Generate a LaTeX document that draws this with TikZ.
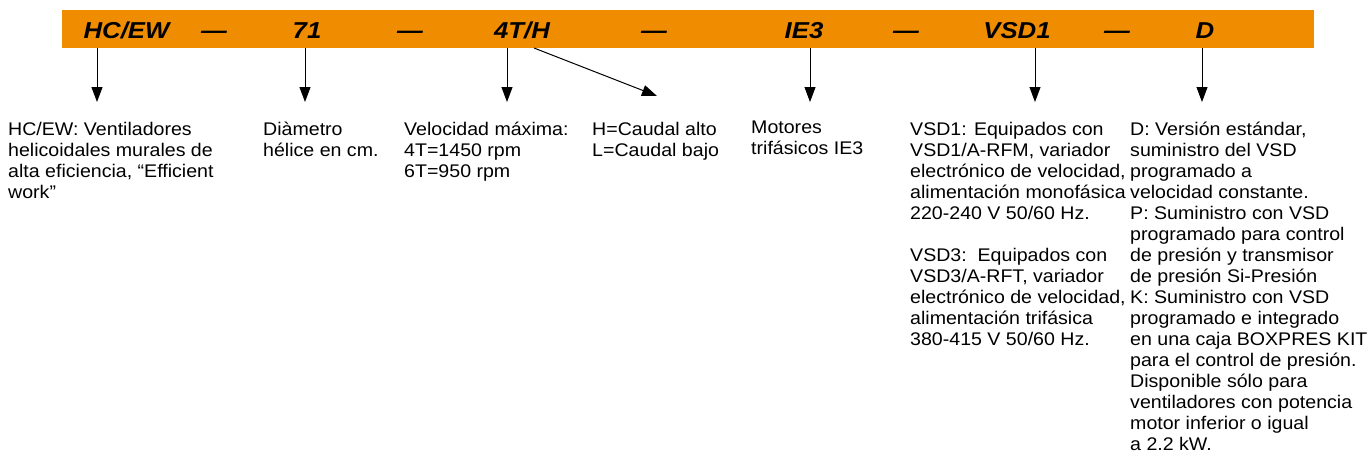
\documentclass[tikz,border=0pt]{standalone}
\usepackage{fontspec}
\setmainfont{Liberation Sans}[FakeStretch=1.07]
\newfontfamily\codefont{Liberation Sans}[FakeStretch=1.12]
\usepackage{tikz}
\usetikzlibrary{arrows.meta}
\definecolor{xorange}{RGB}{240,140,0}

\begin{document}
\begin{tikzpicture}[x=1pt, y=-1pt,
  codebar/.style={fill=xorange, inner sep=0pt, anchor=north west,
                  minimum width=1252pt, minimum height=38pt},
  code/.style={font=\codefont\fontsize{23}{26}\selectfont\bfseries\itshape,
               inner sep=0pt, anchor=base},
  % base = baseline of the last line
  desc/.style={font=\fontsize{18.3}{21}\selectfont, align=left,
               inner sep=0pt, anchor=base west},
  arr/.style={-{Triangle[length=15pt,width=11pt]}, line width=1pt}
]
  \useasboundingbox (0,0) rectangle (1367,459);
  \node[codebar] (bar) at (62,10) {};

  % code fields
  \node[code] (hcew)  at (126.5,38) {HC/EW};
  \node[code] (dash1) at (214,38)   {—};
  \node[code] (diam)  at (307,38)   {71};
  \node[code] (dash2) at (410,38)   {—};
  \node[code] (speed) at (522,38)   {4T/H};
  \node[code] (dash3) at (654,38)   {—};
  \node[code] (motor) at (804,38)   {IE3};
  \node[code] (dash4) at (906,38)   {—};
  \node[code] (vsd)   at (1017,38)  {VSD1};
  \node[code] (dash5) at (1117,38)  {—};
  \node[code] (vers)  at (1205,38)  {D};

  % arrow ends
  \coordinate (tipHcew)  at (97,102);
  \coordinate (tipDiam)  at (305,102);
  \coordinate (tipSpeed) at (507,102);
  \coordinate (tailFlow) at (534,48);
  \coordinate (tipFlow)  at (657,96);
  \coordinate (tipMotor) at (810,102);
  \coordinate (tipVsd)   at (1035,102);
  \coordinate (tipVers)  at (1202,102);

  \draw[arr] (bar.south -| tipHcew)  -- (tipHcew);
  \draw[arr] (bar.south -| tipDiam)  -- (tipDiam);
  \draw[arr] (bar.south -| tipSpeed) -- (tipSpeed);
  \draw[arr] (tailFlow) -- (tipFlow);
  \draw[arr] (bar.south -| tipMotor) -- (tipMotor);
  \draw[arr] (bar.south -| tipVsd)   -- (tipVsd);
  \draw[arr] (bar.south -| tipVers)  -- (tipVers);

  % descriptions
  \node[desc] (txtHcew) at (8,198) {HC/EW: Ventiladores\\helicoidales murales de\\alta eficiencia, “Efficient\\work”};
  \node[desc] (txtDiam) at (263,156) {Diàmetro\\hélice en cm.};
  \node[desc] (txtSpeed) at (404,177) {Velocidad máxima:\\4T=1450 rpm\\6T=950 rpm};
  \node[desc] (txtFlow) at (592,156) {H=Caudal alto\\L=Caudal bajo};
  \node[desc] (txtMotor) at (751,154) {Motores\\trifásicos IE3};
  \node[desc] (txtVsd) at (910,345) {VSD1: Equipados con\\VSD1/A-RFM, variador\\electrónico de velocidad,\\alimentación monofásica\\220-240 V 50/60 Hz.\\[21pt]VSD3:\ \ Equipados con\\VSD3/A-RFT, variador\\electrónico de velocidad,\\alimentación trifásica\\380-415 V 50/60 Hz.};
  \node[desc] (txtVers) at (1130,450) {D: Versión estándar,\\suministro del VSD\\programado a\\velocidad constante.\\P: Suministro con VSD\\programado para control\\de presión y transmisor\\de presión Si-Presión\\K: Suministro con VSD\\programado e integrado\\en una caja BOXPRES KIT\\para el control de presión.\\Disponible sólo para\\ventiladores con potencia\\motor inferior o igual\\a 2.2 kW.};
\end{tikzpicture}
\end{document}
